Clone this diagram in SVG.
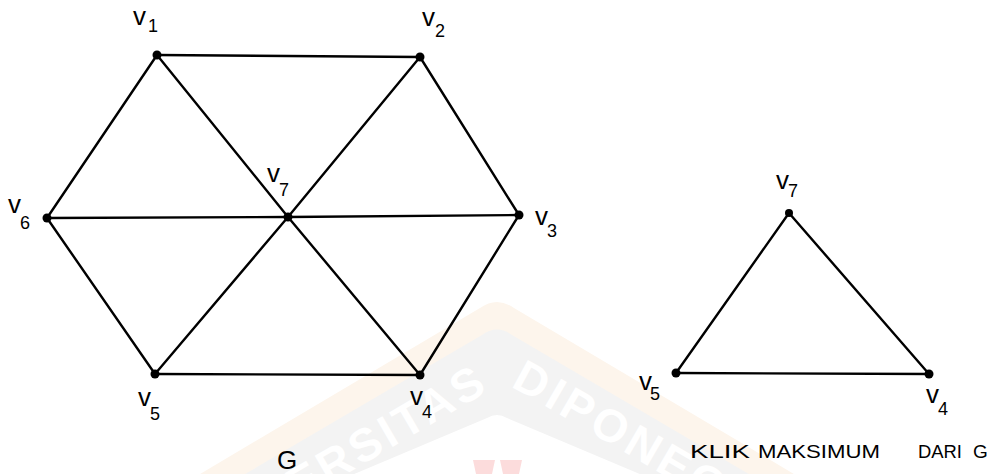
<svg xmlns="http://www.w3.org/2000/svg" width="1000" height="474" viewBox="0 0 1000 474">
<style>
.edge{stroke:#000;stroke-width:2.4;stroke-linecap:round;fill:none}
.node{fill:#000}
.lbl{font-family:"Liberation Sans",Arial,sans-serif;font-size:26px;fill:#000}
.sub{font-size:18px}
.cap{font-family:"Liberation Sans",Arial,sans-serif;font-size:19px;fill:#000}
.wm{font-family:"Liberation Sans",Arial,sans-serif;font-weight:bold;font-size:46px;fill:#ffffff;letter-spacing:4px}
</style>
<defs>
<path id="wmArc" d="M 120 606 L 480 396 Q 504 382 528 396 L 888 606"/>
</defs>
<rect width="1000" height="474" fill="#ffffff"/>
<g id="watermark">
<path d="M 190 480 L 480 308 Q 497 296 514 308 L 804 480 Z" fill="#fdf5ec"/>
<path d="M 235 480 L 482 335 Q 497 324 512 335 L 759 480 Z" fill="#f3f3f3"/>
<path d="M 340 480 L 487 418 Q 497 412 507 418 L 654 480 Z" fill="#ffffff"/>
<polygon points="473,460 495,460 492,474 476,474" fill="#fcdcdc"/>
<polygon points="500,460 522,460 519,474 503,474" fill="#fcdcdc"/>
<text class="wm"><textPath href="#wmArc" startOffset="50%" text-anchor="middle">UNIVERSITAS DIPONEGORO</textPath></text>
</g>
<g id="connectors">
<line class="edge" x1="157" y1="55" x2="420" y2="57"/>
<line class="edge" x1="157" y1="55" x2="47" y2="218"/>
<line class="edge" x1="157" y1="55" x2="288" y2="217"/>
<line class="edge" x1="420" y1="57" x2="288" y2="217"/>
<line class="edge" x1="420" y1="57" x2="519" y2="215"/>
<line class="edge" x1="47" y1="218" x2="288" y2="217"/>
<line class="edge" x1="288" y1="217" x2="519" y2="215"/>
<line class="edge" x1="47" y1="218" x2="155" y2="374"/>
<line class="edge" x1="288" y1="217" x2="155" y2="374"/>
<line class="edge" x1="288" y1="217" x2="420" y2="375"/>
<line class="edge" x1="519" y1="215" x2="420" y2="375"/>
<line class="edge" x1="155" y1="374" x2="420" y2="375"/>
<line class="edge" x1="789" y1="213" x2="676" y2="373"/>
<line class="edge" x1="789" y1="213" x2="929" y2="374"/>
<line class="edge" x1="676" y1="373" x2="929" y2="374"/>
</g>
<g id="v1"><circle class="node" cx="157" cy="55" r="4.5"/><text class="lbl" x="133" y="25">v<tspan class="sub" dx="2" dy="7">1</tspan></text></g>
<g id="v2"><circle class="node" cx="420" cy="57" r="4.5"/><text class="lbl" x="422" y="26">v<tspan class="sub" dx="0" dy="11">2</tspan></text></g>
<g id="v3"><circle class="node" cx="519" cy="215" r="4.5"/><text class="lbl" x="535" y="225">v<tspan class="sub" dx="-1" dy="12">3</tspan></text></g>
<g id="v4"><circle class="node" cx="420" cy="375" r="4.5"/><text class="lbl" x="410" y="405">v<tspan class="sub" dx="-1" dy="13">4</tspan></text></g>
<g id="v5"><circle class="node" cx="155" cy="374" r="4.5"/><text class="lbl" x="138" y="406">v<tspan class="sub" dx="-1" dy="14">5</tspan></text></g>
<g id="v6"><circle class="node" cx="47" cy="218" r="4.5"/><text class="lbl" x="8" y="213">v<tspan class="sub" dx="-1" dy="16" font-size="20">6</tspan></text></g>
<g id="v7"><circle class="node" cx="288" cy="217" r="4.5"/><text class="lbl" x="267" y="182">v<tspan class="sub" dx="-1" dy="14">7</tspan></text></g>
<g id="G-label"><text class="lbl" x="277" y="469" font-size="29">G</text></g>
<g id="k7"><circle class="node" cx="789" cy="213" r="4"/><text class="lbl" x="776" y="189" font-size="22">v<tspan class="sub" dx="-1" dy="8" font-size="16">7</tspan></text></g>
<g id="k5"><circle class="node" cx="676" cy="373" r="4.5"/><text class="lbl" x="639" y="390">v<tspan class="sub" dx="-2" dy="10">5</tspan></text></g>
<g id="k4"><circle class="node" cx="929" cy="374" r="4.5"/><text class="lbl" x="926" y="403">v<tspan class="sub" dx="-1" dy="12">4</tspan></text></g>
<g id="caption"><text class="cap" y="458"><tspan x="690" textLength="60" lengthAdjust="spacingAndGlyphs">KLIK</tspan><tspan x="758" textLength="122" lengthAdjust="spacingAndGlyphs">MAKSIMUM</tspan><tspan x="918" textLength="44" lengthAdjust="spacingAndGlyphs">DARI</tspan><tspan x="973">G</tspan></text></g>
</svg>
